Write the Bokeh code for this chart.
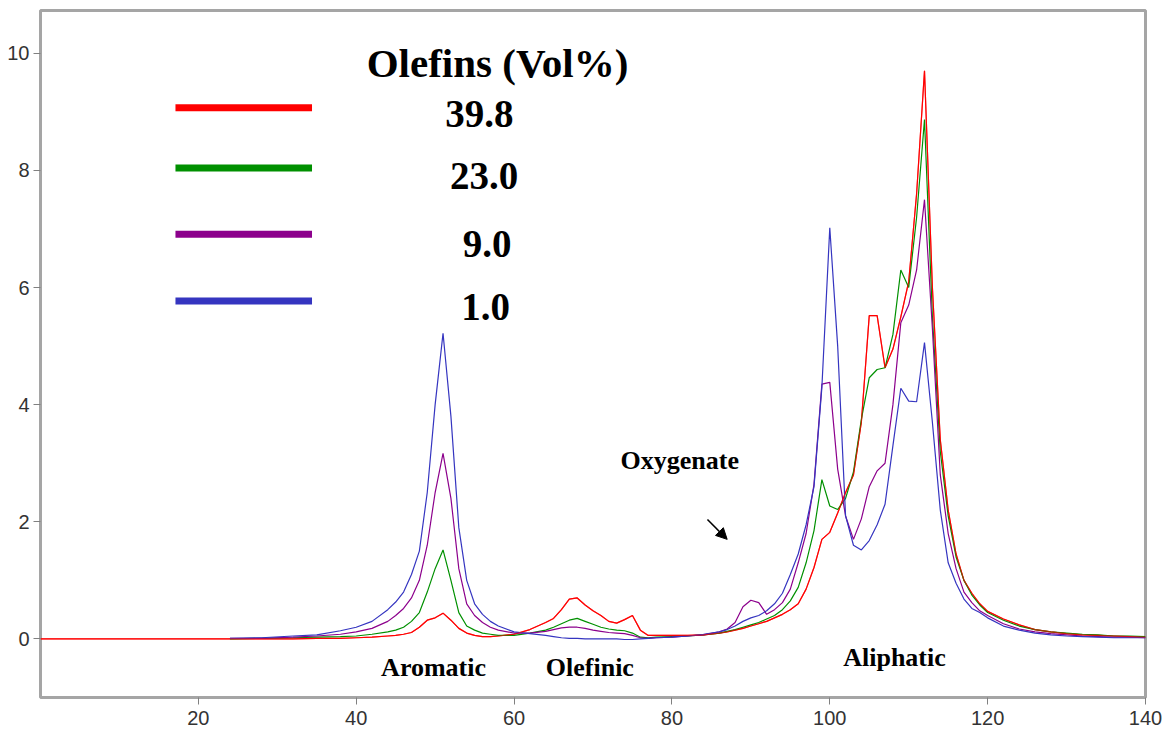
from bokeh.plotting import figure
from bokeh.models import Range1d, FixedTicker, Arrow, NormalHead
from bokeh.core.properties import value
from bokeh.embed import file_html
from bokeh.resources import INLINE

# ---------------- data ----------------
X = [24, 28, 32, 35, 38, 40, 42, 44, 45, 46, 47, 48, 49, 50, 51, 52, 53, 54, 55, 56, 57, 58,
     60, 62, 64, 65, 66, 67, 68, 69, 70, 71, 72, 73, 74, 75, 76, 77, 78, 80, 82, 84,
     86, 87, 88, 89, 90, 91, 92, 93, 94, 95, 96, 97, 98, 99, 100, 101, 102, 103, 104, 105,
     106, 107, 108, 109, 110, 111, 112, 113, 114, 115, 116, 117, 118, 119, 120,
     122, 124, 126, 128, 130, 132, 134, 136, 138, 140]

RED_X_LEAD = [0, 10, 20]
RED_Y_LEAD = [0, 0, 0]

RED = [0, 0, 0, 0.01, 0.01, 0.02, 0.03, 0.05,
       0.06, 0.08, 0.11, 0.2, 0.32, 0.36, 0.44, 0.32, 0.18, 0.1, 0.06, 0.04, 0.04, 0.05,
       0.08, 0.16, 0.28,
       0.35, 0.5, 0.68, 0.7, 0.58, 0.48, 0.4, 0.3, 0.27, 0.33, 0.4, 0.15, 0.06, 0.06,
       0.06, 0.06, 0.07,
       0.1, 0.12, 0.15, 0.18, 0.22, 0.26, 0.3, 0.36, 0.42, 0.5, 0.6, 0.85, 1.22, 1.7, 1.82, 2.15,
       2.5, 2.8, 3.7, 5.52, 5.52, 4.63, 4.95, 5.5, 6.1, 7.6, 9.7, 6.0, 3.4, 2.2, 1.45, 1.0,
       0.78, 0.6, 0.47,
       0.34, 0.24, 0.16, 0.12, 0.09, 0.07, 0.06, 0.05, 0.04, 0.03]

GREEN = [0.0, 0.01, 0.02, 0.03, 0.04, 0.05, 0.08, 0.12,
         0.15, 0.2, 0.3, 0.45, 0.8, 1.2, 1.52, 1.0, 0.45, 0.22, 0.15, 0.1, 0.08, 0.06,
         0.06, 0.1, 0.15,
         0.2, 0.26, 0.32, 0.35, 0.3, 0.25, 0.2, 0.17, 0.15, 0.14, 0.1, 0.03, 0.02, 0.03,
         0.04, 0.05, 0.07,
         0.1, 0.13, 0.16, 0.2, 0.24, 0.28, 0.34, 0.4, 0.5, 0.65, 0.88, 1.3, 1.85, 2.72, 2.27, 2.21,
         2.4, 2.85, 3.75, 4.46, 4.6, 4.63, 5.2, 6.3, 6.0, 7.2, 8.87, 5.5, 3.2, 2.1, 1.4, 1.0,
         0.75, 0.58, 0.45,
         0.32, 0.22, 0.16, 0.12, 0.1, 0.08, 0.07, 0.05, 0.05, 0.04]

PURPLE = [0.01, 0.01, 0.03, 0.05, 0.08, 0.12, 0.18, 0.3,
          0.4, 0.52, 0.7, 1.0, 1.6, 2.5, 3.17, 2.4, 1.2, 0.6, 0.4, 0.28, 0.2, 0.15,
          0.1, 0.1, 0.13,
          0.16, 0.19, 0.2, 0.2, 0.18, 0.15, 0.13, 0.11, 0.1, 0.09, 0.06, 0.02, 0.01, 0.02,
          0.03, 0.05, 0.07,
          0.12, 0.17, 0.28, 0.55, 0.66, 0.62, 0.42, 0.5, 0.62, 0.85, 1.3, 1.8, 2.64, 4.35, 4.38, 2.9,
          2.1, 1.7, 2.05, 2.6, 2.87, 3.0, 4.0, 5.4, 5.7, 6.3, 7.5, 5.3, 2.8, 1.8, 1.2, 0.8,
          0.62, 0.48, 0.4,
          0.26, 0.17, 0.12, 0.09, 0.07, 0.05, 0.04, 0.03, 0.03, 0.02]

BLUE = [0.01, 0.02, 0.05, 0.07, 0.14, 0.2, 0.3, 0.5,
        0.63, 0.8, 1.1, 1.5, 2.5, 4.0, 5.22, 3.8, 1.9, 1.0, 0.6, 0.42, 0.3, 0.22,
        0.12, 0.09, 0.06,
        0.04, 0.02, 0.01, 0.01, 0.0, 0.0, 0.0, 0.0, 0.0, -0.01, -0.01, 0.0, 0.01, 0.02,
        0.03, 0.05, 0.08,
        0.12, 0.16, 0.22, 0.3, 0.36, 0.4, 0.48, 0.6, 0.78, 1.1, 1.45, 1.95, 2.6, 4.3, 7.02, 5.0,
        2.1, 1.6, 1.52, 1.68, 1.95, 2.3, 3.3, 4.28, 4.06, 4.05, 5.06, 3.7, 2.2, 1.3, 0.95, 0.68,
        0.52, 0.45, 0.36,
        0.22, 0.15, 0.1, 0.07, 0.05, 0.04, 0.03, 0.02, 0.02, 0.02]

SERIES_LABELS = ["39.8", "23.0", "9.0", "1.0"]
LEGEND_TITLE = "Olefins (Vol%)"
REGION_LABELS = ["Aromatic", "Olefinic", "Aliphatic"]
OXY_LABEL = "Oxygenate"
X_TICKS = [20, 40, 60, 80, 100, 120, 140]
Y_TICKS = [0, 2, 4, 6, 8, 10]

# ---------------- styling / layout ----------------
COLORS = ["#ff0000", "#009000", "#8c008c", "#3535c0"]

p = figure(width=1168, height=735, output_backend="svg", toolbar_location=None,
           x_range=Range1d(0, 140), y_range=Range1d(-1.0, 10.73),
           min_border_left=40, min_border_right=23, min_border_top=10, min_border_bottom=38)
p.background_fill_color = "white"
p.border_fill_color = "white"
p.outline_line_color = "#a5a5a5"
p.outline_line_width = 3
p.xgrid.visible = False
p.ygrid.visible = False

for ax, ticks in ((p.xaxis, X_TICKS), (p.yaxis, Y_TICKS)):
    ax.ticker = FixedTicker(ticks=ticks)
    ax.axis_line_color = None
    ax.major_tick_line_color = "#808080"
    ax.major_tick_in = 0
    ax.major_tick_out = 7
    ax.minor_tick_line_color = None
    ax.major_label_text_font = "Liberation Sans"
    ax.major_label_text_font_size = "20px"
    ax.major_label_text_color = "#333333"
p.xaxis.major_label_standoff = 6
p.yaxis.major_label_standoff = 4

# series
p.line(RED_X_LEAD + X, RED_Y_LEAD + RED, line_color=COLORS[0], line_width=1.2)
p.line(X, GREEN, line_color=COLORS[1], line_width=1.2)
p.line(X, PURPLE, line_color=COLORS[2], line_width=1.2)
p.line(X, BLUE, line_color=COLORS[3], line_width=1.2)
p.line(RED_X_LEAD + X, RED_Y_LEAD + RED, line_color=COLORS[0], line_width=1.2, line_alpha=0.6)

serif = value("Liberation Serif")

# custom legend
leg_y = [9.07, 8.04, 6.91, 5.77]
num_y = [8.97, 7.90, 6.75, 5.67]
p.segment(x0=[17.1] * 4, y0=leg_y, x1=[34.4] * 4, y1=leg_y, line_color=COLORS, line_width=7)
p.text(x=[57.9], y=[9.83], text=[LEGEND_TITLE], text_font=serif, text_font_style="bold",
       text_font_size="41px", text_align="center", text_baseline="alphabetic", text_color="black")
p.text(x=[55.6, 56.2, 56.6, 56.4], y=num_y, text=SERIES_LABELS, text_font=serif,
       text_font_style="bold", text_font_size="39px", text_align="center",
       text_baseline="alphabetic", text_color="black")

# region labels
p.text(x=[49.8, 69.6, 108.2], y=[-0.48, -0.48, -0.32], text=REGION_LABELS, text_font=serif,
       text_font_style="bold", text_font_size="26px", text_align="center",
       text_baseline="alphabetic", text_color="black")
p.text(x=[81.0], y=[3.04], text=[OXY_LABEL], text_font=serif, text_font_style="bold",
       text_font_size="26px", text_align="center", text_baseline="alphabetic", text_color="black")
p.add_layout(Arrow(x_start=84.5, y_start=2.04, x_end=87.0, y_end=1.70, line_width=1.5,
                   line_color="black",
                   end=NormalHead(size=11, fill_color="black", line_color="black")))

open("out.html", "w").write(file_html(p, INLINE))
